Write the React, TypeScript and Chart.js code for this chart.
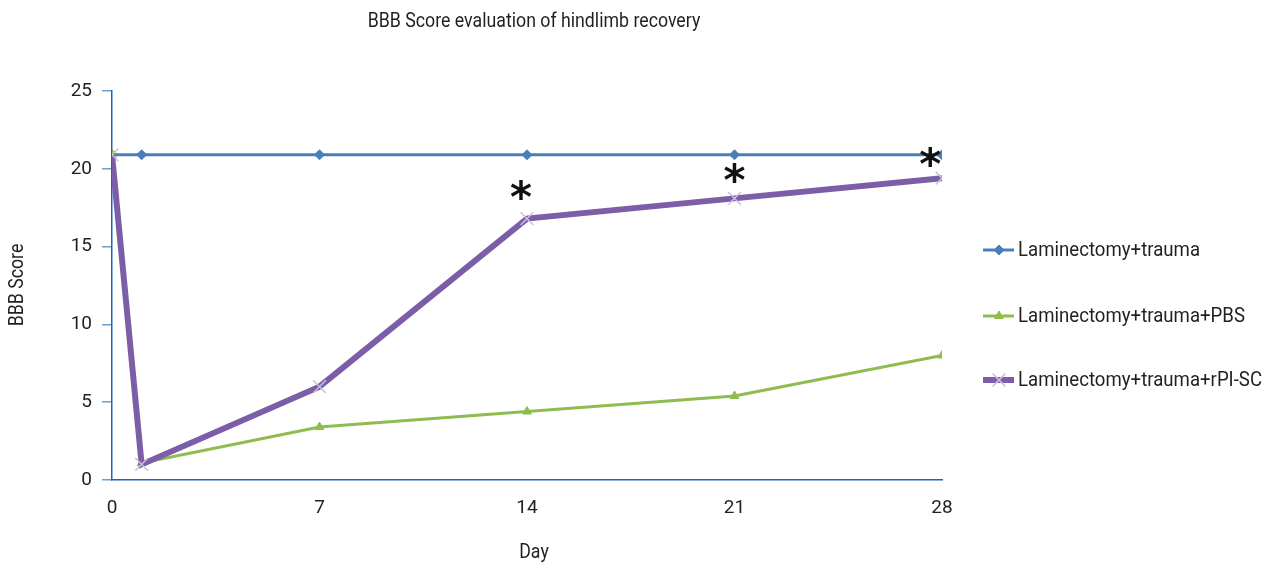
import React, { useEffect, useRef } from "react";
import { Chart, registerables } from "chart.js";
import { drawPoint } from "chart.js/helpers";

Chart.register(...registerables);

const days = [0, 1, 7, 14, 21, 28];
const laminectomyTrauma = [20.9, 20.9, 20.9, 20.9, 20.9, 20.9];
const laminectomyPBS = [20.9, 1.1, 3.4, 4.4, 5.4, 8.0];
const laminectomyRPISC = [20.9, 1.0, 6.0, 16.8, 18.1, 19.4];
const seriesNames = ["Laminectomy+trauma", "Laminectomy+trauma+PBS", "Laminectomy+trauma+rPI-SC"];
const asteriskDays = [13.8, 21, 27.6];
const asteriskScores = [18.5, 19.6, 20.6];
const yTicks = [0, 5, 10, 15, 20, 25];
const xTicks = [0, 7, 14, 21, 28];

const FONT = "Roboto, 'Liberation Sans', sans-serif";

const toPts = (ys: number[]) => days.map((d, i) => ({ x: d, y: ys[i] }));

function narrowText(ctx: CanvasRenderingContext2D, text: string, x: number, y: number, sx: number) {
  ctx.save();
  ctx.translate(x, y);
  ctx.scale(sx, 1);
  ctx.fillText(text, 0, 0);
  ctx.restore();
}

export default function App() {
  const ref = useRef<HTMLCanvasElement | null>(null);
  useEffect(() => {
    if (!ref.current) return;
    const extras = {
      id: "extras",
      afterDraw(chart: any) {
        const ctx = chart.ctx;
        const xs = chart.scales.x;
        const ys = chart.scales.y;
        const ca = chart.chartArea;
        ctx.save();
        ctx.font = `21px ${FONT}`;
        const sx = 244 / ctx.measureText(seriesNames[2]).width;
        // title
        ctx.fillStyle = "#231f20";
        ctx.font = `20px ${FONT}`;
        ctx.textAlign = "center";
        ctx.textBaseline = "middle";
        narrowText(ctx, "BBB Score evaluation of hindlimb recovery", 534, 22, sx);
        // axis titles
        narrowText(ctx, "Day", 534, 553, sx);
        ctx.save();
        ctx.translate(18, 285);
        ctx.rotate(-Math.PI / 2);
        narrowText(ctx, "BBB Score", 0, 0, sx);
        ctx.restore();
        // asterisks
        ctx.fillStyle = "#111";
        ctx.font = `bold 42px 'DejaVu Sans', sans-serif`;
        asteriskDays.forEach((d, i) => {
          ctx.fillText("*", xs.getPixelForValue(d), ys.getPixelForValue(asteriskScores[i]) + 9);
        });
        // legend
        const legendY = [250, 316, 380];
        chart.data.datasets.forEach((ds: any, i: number) => {
          const y = legendY[i];
          ctx.strokeStyle = ds.borderColor;
          ctx.lineWidth = ds.borderWidth;
          ctx.beginPath();
          ctx.moveTo(983, y);
          ctx.lineTo(1014, y);
          ctx.stroke();
          ctx.fillStyle = ds.pointBackgroundColor;
          ctx.strokeStyle = ds.pointBorderColor;
          ctx.lineWidth = ds.pointBorderWidth;
          drawPoint(ctx, { pointStyle: ds.pointStyle, radius: ds.pointRadius, rotation: 0, borderWidth: ds.pointBorderWidth }, 999, y);
          ctx.fillStyle = "#231f20";
          ctx.font = `21px ${FONT}`;
          ctx.textAlign = "left";
          narrowText(ctx, seriesNames[i], 1018, y + 1, sx);
        });
        ctx.restore();
      },
    };
    const chart = new Chart(ref.current, {
      type: "line",
      data: {
        datasets: [
          {
            label: seriesNames[0],
            data: toPts(laminectomyTrauma),
            borderColor: "#4a7ebb",
            backgroundColor: "#4a7ebb",
            borderWidth: 3,
            pointStyle: "rectRot",
            pointRadius: 5,
            pointBackgroundColor: "#4a7ebb",
            pointBorderColor: "#4a7ebb",
            pointBorderWidth: 1,
            order: 3,
          },
          {
            label: seriesNames[1],
            data: toPts(laminectomyPBS),
            borderColor: "#8fbc4e",
            backgroundColor: "#8fbc4e",
            borderWidth: 3,
            pointStyle: "triangle",
            pointRadius: 5,
            pointBackgroundColor: "#8fbc4e",
            pointBorderColor: "#8fbc4e",
            pointBorderWidth: 1,
            order: 2,
          },
          {
            label: seriesNames[2],
            data: toPts(laminectomyRPISC),
            borderColor: "#7b5ea7",
            backgroundColor: "#7b5ea7",
            borderWidth: 6,
            pointStyle: "crossRot",
            pointRadius: 9,
            pointBackgroundColor: "#c9bfdc",
            pointBorderColor: "#c9bfdc",
            pointBorderWidth: 1.5,
            order: 1,
          },
        ],
      },
      options: {
        responsive: false,
        animation: false,
        layout: { padding: { left: 0, right: 330, top: 91, bottom: 0 } },
        plugins: { legend: { display: false }, title: { display: false }, tooltip: { enabled: false } },
        scales: {
          x: {
            type: "linear",
            min: 0,
            max: 28,
            afterFit: (s: any) => { s.height = 88; },
            afterBuildTicks: (s: any) => { s.ticks = xTicks.map((v) => ({ value: v })); },
            ticks: { color: "#231f20", font: { family: FONT, size: 19 }, padding: 17 },
            grid: { display: true, drawOnChartArea: false, drawTicks: false, color: "#1f64b8" },
            border: { color: "#1f64b8", width: 1.5 },
          },
          y: {
            min: 0,
            max: 25,
            afterFit: (s: any) => { s.width = 112; },
            afterBuildTicks: (s: any) => { s.ticks = yTicks.map((v) => ({ value: v })); },
            ticks: { color: "#231f20", font: { family: FONT, size: 19 }, padding: 10 },
            grid: { drawOnChartArea: false, drawTicks: true, tickLength: 10, color: "#6b9fd4", lineWidth: 1.5 },
            border: { color: "#1f64b8", width: 1.5 },
          },
        },
      },
      plugins: [extras],
    });
    return () => chart.destroy();
  }, []);
  return (
    <div style={{ position: "absolute", left: 0, top: 0, width: 1272, height: 568, background: "#fff" }}>
      <canvas ref={ref} width={1272} height={568} style={{ width: 1272, height: 568 }} />
    </div>
  );
}
